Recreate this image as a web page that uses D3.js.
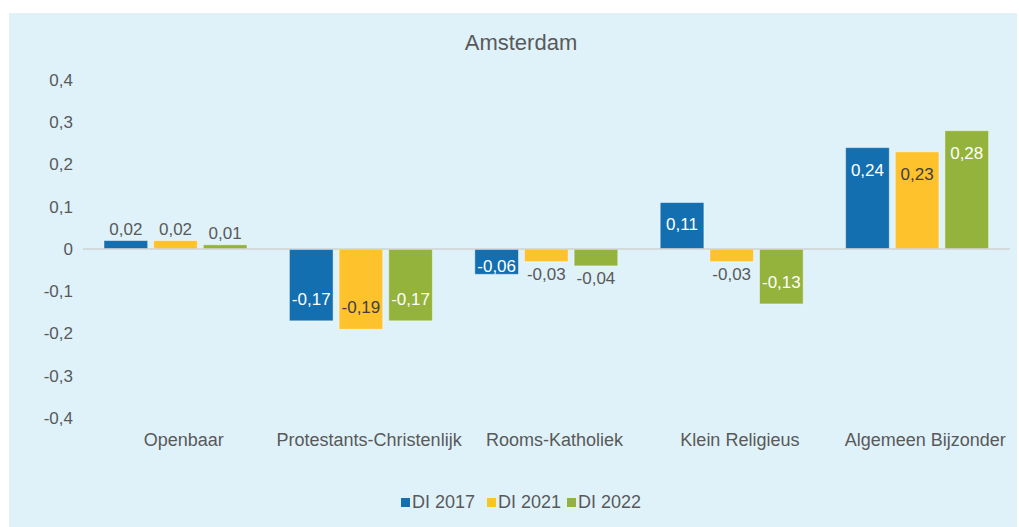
<!DOCTYPE html>
<html>
<head>
<meta charset="utf-8">
<script src="https://cdn.jsdelivr.net/npm/d3@7"></script>
<style>
  body { margin: 0; background: #ffffff; }
  text { font-family: "Liberation Sans", Arial, sans-serif; }
</style>
</head>
<body>
<div class="chart"></div>
<script>
var categories = ["Openbaar", "Protestants-Christenlijk", "Rooms-Katholiek", "Klein Religieus", "Algemeen Bijzonder"];
var seriesNames = ["DI 2017", "DI 2021", "DI 2022"];
var di2017 = [0.02, -0.17, -0.06, 0.11, 0.24];
var di2021 = [0.02, -0.19, -0.03, -0.03, 0.23];
var di2022 = [0.01, -0.17, -0.04, -0.13, 0.28];
var yTicks = [-0.4, -0.3, -0.2, -0.1, 0, 0.1, 0.2, 0.3, 0.4];

var colors = ["#136faf", "#fec22c", "#93b33c"];
var labelInside = ["#ffffff", "#404040", "#ffffff"];

var svgWidth = 1019;
var svgHeight = 527;

var svg = d3.select(".chart")
  .append("svg")
  .attr("width", svgWidth)
  .attr("height", svgHeight);

// panel background
svg.append("rect")
  .attr("x", 9)
  .attr("y", 13)
  .attr("width", 1008)
  .attr("height", 514)
  .attr("fill", "#dff2fa");

svg.append("text")
  .attr("x", 521)
  .attr("y", 50)
  .attr("text-anchor", "middle")
  .attr("font-size", "22px")
  .attr("fill", "#595959")
  .text("Amsterdam");

var allSeries = [di2017, di2021, di2022];
var rows = categories.map(function(c, i) {
  return { cat: c, values: allSeries.map(function(s, j) { return { name: seriesNames[j], idx: j, value: s[i] }; }) };
});

var xScale = d3.scaleBand()
  .domain(categories)
  .range([83, 1010]);

var x1 = d3.scaleBand()
  .domain(seriesNames)
  .range([21, 164])
  .paddingInner(0.12);

var yScale = d3.scaleLinear()
  .domain([-0.4, 0.4])
  .range([418, 80]);

// comma decimals, plain hyphen for minus
var fmt = function(v) { return d3.format(".2f")(v).replace(".", ",").replace("−", "-"); };
var fmtTick = function(v) { return v === 0 ? "0" : d3.format(".1f")(v).replace(".", ",").replace("−", "-"); };

// y tick labels
var leftAxis = d3.axisLeft(yScale).tickValues(yTicks).tickFormat(fmtTick).tickSize(0).tickPadding(0);
var yAxis = svg.append("g")
  .attr("transform", "translate(73,0)")
  .call(leftAxis);
yAxis.select(".domain").remove();
yAxis.selectAll("text")
  .attr("font-size", "17px")
  .attr("fill", "#595959")
  .attr("font-family", "Liberation Sans, Arial, sans-serif");

var groups = svg.selectAll(".group")
  .data(rows)
  .enter()
  .append("g")
  .attr("transform", d => `translate(${xScale(d.cat)},0)`);

groups.selectAll("rect")
  .data(d => d.values)
  .enter()
  .append("rect")
  .attr("x", d => x1(d.name))
  .attr("y", d => yScale(Math.max(0, d.value)))
  .attr("width", x1.bandwidth())
  .attr("height", d => Math.abs(yScale(d.value) - yScale(0)))
  .attr("fill", d => colors[d.idx])
  .attr("stroke", "#ffffff")
  .attr("stroke-opacity", 0.45)
  .attr("stroke-width", 1);

// data labels
groups.selectAll(".lbl")
  .data(d => d.values)
  .enter()
  .append("text")
  .attr("class", "lbl")
  .attr("text-anchor", "middle")
  .attr("dy", "0.35em")
  .attr("font-size", "17px")
  .attr("x", d => x1(d.name) + x1.bandwidth() / 2)
  .attr("y", function(d) {
    var h = Math.abs(yScale(d.value) - yScale(0));
    var end = yScale(d.value);
    var sign = d.value >= 0 ? 1 : -1;
    if (h < 20) return end - sign * 12;
    return end + sign * Math.min(22, h - 17);
  })
  .attr("fill", function(d) {
    var h = Math.abs(yScale(d.value) - yScale(0));
    return h < 20 ? "#595959" : labelInside[d.idx];
  })
  .text(d => fmt(d.value));

// zero line
svg.append("line")
  .attr("x1", 83)
  .attr("x2", 1010)
  .attr("y1", yScale(0))
  .attr("y2", yScale(0))
  .attr("stroke", "#d0d0d0")
  .attr("stroke-width", 1.5);

// category labels
svg.selectAll(".cat")
  .data(categories)
  .enter()
  .append("text")
  .attr("x", d => xScale(d) + xScale.bandwidth() / 2 + 8)
  .attr("y", 446)
  .attr("text-anchor", "middle")
  .attr("font-size", "18px")
  .attr("fill", "#595959")
  .text(d => d);

// legend
var legendX = [401, 487, 567];
var legend = svg.selectAll(".legend")
  .data(seriesNames)
  .enter()
  .append("g")
  .attr("transform", (d, i) => `translate(${legendX[i]},498)`);

legend.append("rect")
  .attr("width", 9)
  .attr("height", 9)
  .attr("fill", (d, i) => colors[i]);

legend.append("text")
  .attr("x", 11)
  .attr("y", 10)
  .attr("font-size", "18px")
  .attr("fill", "#595959")
  .text(d => d);
</script>
</body>
</html>
